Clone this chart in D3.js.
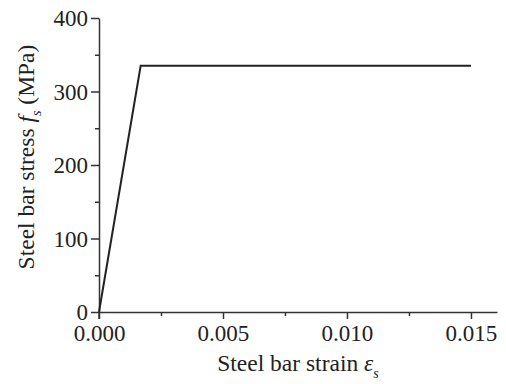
<!DOCTYPE html>
<html>
<head>
<meta charset="utf-8">
<script src="https://cdn.jsdelivr.net/npm/d3@7"></script>
<style>
  body { margin: 0; background: #fff; }
  text { font-family: "Liberation Serif", "Times New Roman", serif; fill: #222; }
</style>
</head>
<body>
<div id="chart"></div>
<script>
// stress-strain curve points (strain, stress MPa)
const strain = [0, 0.00168, 0.015];
const stress = [0, 335, 335];
const xTicks = [0, 0.005, 0.010, 0.015];
const xMinor = [0.0025, 0.0075, 0.0125];
const yTicks = [0, 100, 200, 300, 400];
const yMinor = [50, 150, 250, 350];

const width = 506, height = 384;
const margin = { left: 99, right: 9, top: 18, bottom: 72 };

const svg = d3.select('#chart').append('svg')
    .attr('width', width)
    .attr('height', height);

const x = d3.scaleLinear().domain([0, 0.01605]).range([margin.left, width - margin.right]);
const y = d3.scaleLinear().domain([0, 400]).range([height - margin.bottom, margin.top]);

const axisColor = '#333';
const tickFont = 23;
const titleFont = 23.5;

// x axis
const gx = svg.append('g').attr('transform', `translate(0,${y(0)})`);
gx.call(d3.axisBottom(x).tickValues(xTicks).tickFormat(d3.format('.3f')).tickSize(7).tickPadding(6).tickSizeOuter(0));
gx.append('g').call(d3.axisBottom(x).tickValues(xMinor).tickFormat('').tickSize(4).tickSizeOuter(0))
    .select('.domain').remove();

// y axis
const gy = svg.append('g').attr('transform', `translate(${x(0)},0)`);
gy.call(d3.axisLeft(y).tickValues(yTicks).tickFormat(d3.format('d')).tickSize(8).tickPadding(3).tickSizeOuter(0));
gy.append('g').call(d3.axisLeft(y).tickValues(yMinor).tickFormat('').tickSize(4).tickSizeOuter(0))
    .select('.domain').remove();

svg.selectAll('g').attr('font-family', null);
svg.selectAll('.domain, .tick line').attr('stroke', axisColor).attr('stroke-width', 1.5);
svg.selectAll('.tick text').attr('font-size', tickFont).attr('fill', '#222');
gy.selectAll('.tick text').attr('dy', '0.34em');

// y axis line runs a little below the x axis
svg.append('line')
    .attr('x1', x(0)).attr('x2', x(0))
    .attr('y1', y(0)).attr('y2', y(0) + 7)
    .attr('stroke', axisColor).attr('stroke-width', 1.5);

// curve
const line = d3.line().x(d => x(d[0])).y(d => y(d[1]));
svg.append('path')
    .datum(strain.map((s, i) => [s, stress[i]]))
    .attr('d', line)
    .attr('fill', 'none')
    .attr('stroke', '#222')
    .attr('stroke-width', 2);

// x title
const xt = svg.append('text')
    .attr('x', 298).attr('y', 371)
    .attr('text-anchor', 'middle')
    .attr('font-size', titleFont);
xt.append('tspan').text('Steel bar strain ');
xt.append('tspan').attr('font-style', 'italic').text('ε');
xt.append('tspan').attr('font-style', 'italic').attr('font-size', 14).attr('dy', 7).text('s');

// y title
const yt = svg.append('text')
    .attr('transform', `translate(34,157) rotate(-90)`)
    .attr('text-anchor', 'middle')
    .attr('font-size', titleFont);
yt.append('tspan').text('Steel bar stress ');
yt.append('tspan').attr('font-style', 'italic').text('f');
yt.append('tspan').attr('font-style', 'italic').attr('font-size', 14).attr('dy', 7).text('s');
yt.append('tspan').attr('dy', -7).text(' (MPa)');
</script>
</body>
</html>
